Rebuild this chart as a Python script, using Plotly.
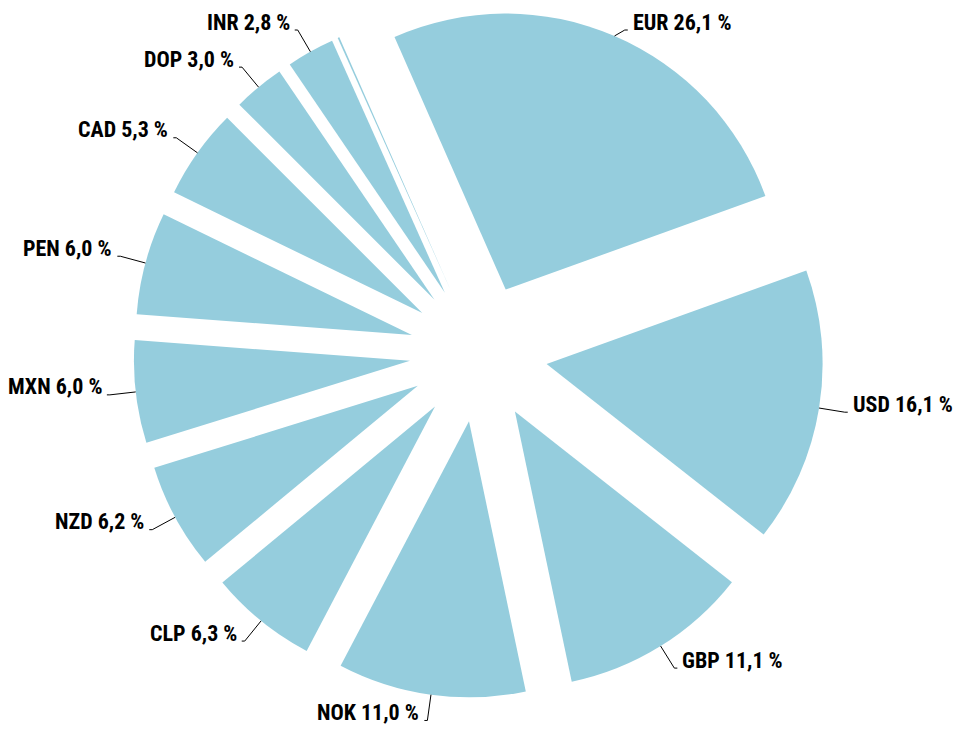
import math
import plotly.graph_objects as go

# ---- data ----
currencies = ["EUR", "USD", "GBP", "NOK", "CLP", "NZD", "MXN", "PEN", "CAD", "DOP", "INR", "Other"]
shares = [26.1, 16.1, 11.1, 11.0, 6.3, 6.2, 6.0, 6.0, 5.3, 3.0, 2.8, 0.1]
show_label = [True] * 11 + [False]

# ---- layout / style ----
W, H = 967, 735
PULL = 0.25
ROTATION = -23.76
SLICE_COLOR = "#95CDDD"
FONT = "Roboto Condensed, Roboto, sans-serif"
FONT_SIZE = 22
DOM_X = [0.0, 941 / W]
DOM_Y = [1 - 690 / H, 1.0]

labels_txt = [f"{c} {v:.1f} %".replace(".", ",") if s else "" for c, v, s in zip(currencies, shares, show_label)]

fig = go.Figure(go.Pie(
    labels=currencies,
    values=shares,
    sort=False,
    direction="clockwise",
    rotation=ROTATION,
    pull=[PULL] * len(shares),
    marker=dict(colors=[SLICE_COLOR] * len(shares), line=dict(width=0)),
    textinfo="none",
    hoverinfo="label+percent",
    domain=dict(x=DOM_X, y=DOM_Y),
    showlegend=False,
))

# ---- pie geometry (same rules plotly uses) to place outside labels ----
box_w = W * (DOM_X[1] - DOM_X[0])
box_h = H * (DOM_Y[1] - DOM_Y[0])
R = min(box_w, box_h) / 2 / (1 + PULL)
cx = W * (DOM_X[0] + DOM_X[1]) / 2
cy = H * (1 - DOM_Y[0]) - box_h / 2
d = PULL * R
total = sum(shares)

DIST, TAIL, GAP, RISE, SPACING = 26, 3, 3, 8, 26
TOP_MIN, BOTTOM_MAX = 22, H - 14
items = []
ang = ROTATION
for name, v, txt, s in zip(currencies, shares, labels_txt, show_label):
    span = 360 * v / total
    mid = math.radians(ang + span / 2)
    ang += span
    if not s:
        continue
    ux, uy = math.sin(mid), -math.cos(mid)
    scx, scy = cx + d * ux, cy + d * uy
    px, py = scx + R * ux, scy + R * uy
    nx, ny = scx + (R + DIST) * ux, scy + (R + DIST) * uy
    side = 1 if ux > 0 else -1
    items.append(dict(txt=txt, px=px, py=py, nx=nx, ey=min(max(ny, TOP_MIN), BOTTOM_MAX), side=side))

for side in (1, -1):
    grp = sorted([it for it in items if it["side"] == side], key=lambda it: it["ey"])
    for a, b in zip(grp, grp[1:]):
        if b["ey"] - a["ey"] < SPACING:
            b["ey"] = a["ey"] + SPACING

def fx(x):
    return x / W

def fy(y):
    return 1 - y / H

shapes, annotations = [], []
for it in items:
    ex = it["nx"] + it["side"] * TAIL
    line_style = dict(color="black", width=1)
    shapes.append(dict(type="line", xref="paper", yref="paper",
                       x0=fx(it["px"]), y0=fy(it["py"]), x1=fx(it["nx"]), y1=fy(it["ey"]), line=line_style))
    shapes.append(dict(type="line", xref="paper", yref="paper",
                       x0=fx(it["nx"]), y0=fy(it["ey"]), x1=fx(ex), y1=fy(it["ey"]), line=line_style))
    annotations.append(dict(
        text=it["txt"], xref="paper", yref="paper",
        x=fx(ex + it["side"] * GAP), y=fy(it["ey"] - RISE),
        xanchor="left" if it["side"] > 0 else "right", yanchor="middle",
        showarrow=False,
        font=dict(family=FONT, size=FONT_SIZE, color="black", weight="bold"),
    ))

fig.update_layout(
    width=W, height=H, autosize=False,
    margin=dict(l=0, r=0, t=0, b=0),
    paper_bgcolor="white", plot_bgcolor="white",
    shapes=shapes, annotations=annotations,
)

fig.write_html("out.html")
